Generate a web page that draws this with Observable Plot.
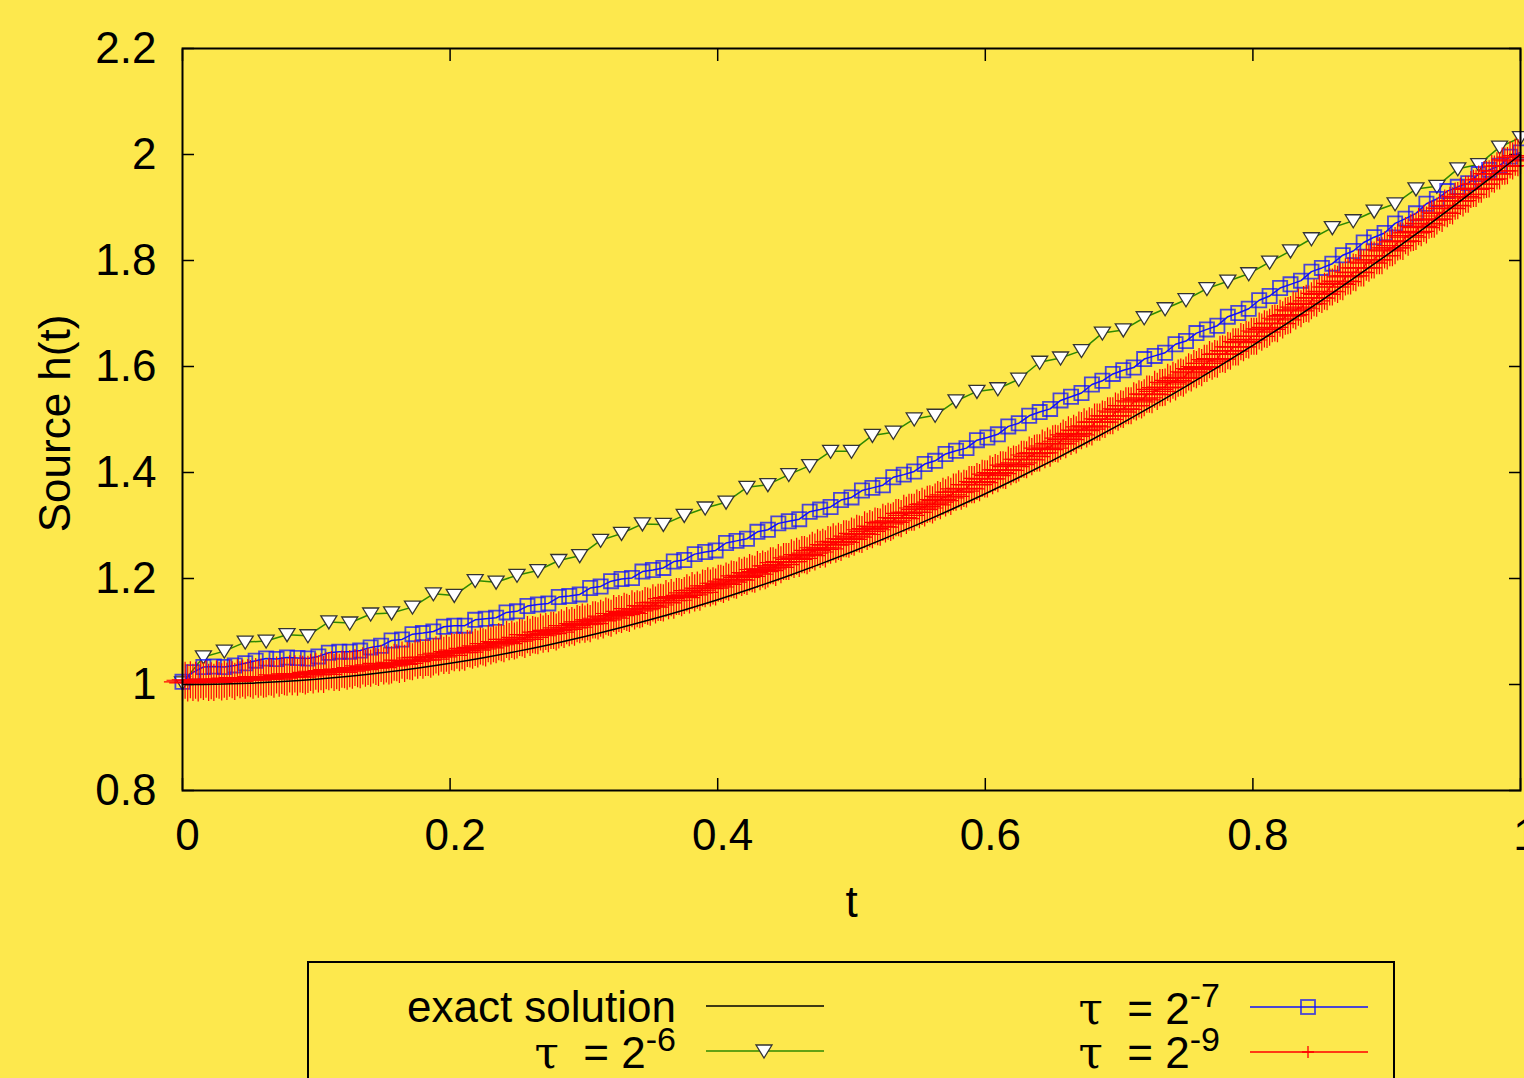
<!DOCTYPE html>
<html><head><meta charset="utf-8">
<script src="https://cdn.jsdelivr.net/npm/d3@7"></script>
<script src="https://cdn.jsdelivr.net/npm/@observablehq/plot@0.6"></script>
<style>
html,body{margin:0;padding:0;background:#fde84d;overflow:hidden;width:1524px;height:1078px;font-family:"Liberation Sans",Arial,Helvetica,sans-serif;}
#chart svg{display:block;}
#legend{position:relative;margin-left:307px;margin-top:1px;width:1084px;height:150px;border:2px solid #000;}
#legend svg{position:absolute;left:0;top:0;}
</style></head><body>
<div id="chart"></div>
<div id="legend"></div>
<script>
// ---- data ----
const exactT = [0,0.025,0.05,0.075,0.1,0.125,0.15,0.175,0.2,0.225,0.25,0.275,0.3,0.325,0.35,0.375,0.4,0.425,0.45,0.475,0.5,0.525,0.55,0.575,0.6,0.625,0.65,0.675,0.7,0.725,0.75,0.775,0.8,0.825,0.85,0.875,0.9,0.925,0.95,0.975,1];
const exactH = [1.0,1.000625,1.0025,1.005625,1.01,1.015625,1.0225,1.030625,1.04,1.050625,1.0625,1.075625,1.09,1.105625,1.1225,1.140625,1.16,1.180625,1.2025,1.225625,1.25,1.275625,1.3025,1.330625,1.36,1.390625,1.4225,1.455625,1.49,1.525625,1.5625,1.600625,1.64,1.680625,1.7225,1.765625,1.81,1.855625,1.9025,1.950625,2.0];

// tau = 2^-6 : 65 points
const tau6H = [1.003,1.052,1.063,1.080,1.082,1.094,1.092,1.118,1.116,1.133,1.135,1.146,1.171,1.168,1.196,1.193,
1.206,1.215,1.234,1.243,1.272,1.285,1.303,1.302,1.319,1.333,1.344,1.372,1.377,1.396,1.413,1.440,
1.440,1.470,1.476,1.501,1.508,1.535,1.553,1.558,1.576,1.608,1.616,1.630,1.663,1.669,1.692,1.709,
1.726,1.747,1.761,1.775,1.797,1.818,1.841,1.862,1.875,1.893,1.907,1.935,1.940,1.973,1.981,2.014,2.032];

// tau = 2^-7 : 129 points
const tau7H = [1.005,1.023,1.033,1.034,1.033,1.036,1.040,1.045,
1.049,1.048,1.051,1.050,1.049,1.053,1.060,1.062,
1.062,1.064,1.070,1.073,1.083,1.085,1.095,1.097,
1.100,1.109,1.111,1.111,1.122,1.124,1.126,1.136,
1.138,1.148,1.151,1.153,1.165,1.167,1.170,1.182,
1.185,1.195,1.199,1.201,1.213,1.216,1.220,1.232,
1.235,1.246,1.250,1.253,1.267,1.271,1.275,1.288,
1.292,1.304,1.308,1.312,1.326,1.330,1.335,1.348,
1.353,1.366,1.371,1.376,1.391,1.396,1.402,1.416,
1.422,1.435,1.441,1.446,1.461,1.466,1.472,1.487,
1.493,1.507,1.514,1.520,1.536,1.543,1.550,1.566,
1.573,1.586,1.593,1.598,1.614,1.620,1.626,1.642,
1.648,1.663,1.670,1.677,1.694,1.701,1.709,1.725,
1.733,1.748,1.755,1.762,1.779,1.786,1.794,1.810,
1.818,1.834,1.844,1.852,1.870,1.879,1.889,1.907,
1.916,1.931,1.939,1.946,1.963,1.971,1.979,1.996,
2.004];

// tau = 2^-9 : 513 points
const tau9H = [
1.005,1.008,1.003,1.009,1.004,1.008,1.003,1.009,1.006,1.010,1.004,1.007,1.004,1.010,1.008,1.005,
1.010,1.006,1.012,1.009,1.006,1.013,1.009,1.012,1.008,1.013,1.011,1.008,1.015,1.010,1.014,1.010,
1.011,1.015,1.014,1.010,1.018,1.012,1.017,1.015,1.014,1.020,1.015,1.020,1.014,1.020,1.019,1.016,
1.019,1.023,1.018,1.025,1.020,1.024,1.019,1.026,1.024,1.028,1.023,1.026,1.023,1.029,1.028,1.025,
1.030,1.027,1.032,1.030,1.028,1.035,1.031,1.034,1.031,1.037,1.034,1.032,1.040,1.035,1.039,1.035,
1.037,1.042,1.041,1.038,1.046,1.040,1.045,1.044,1.043,1.050,1.046,1.051,1.046,1.051,1.051,1.048,
1.052,1.056,1.052,1.059,1.055,1.059,1.055,1.062,1.060,1.065,1.060,1.064,1.061,1.068,1.067,1.065,
1.070,1.067,1.073,1.071,1.069,1.077,1.073,1.077,1.075,1.081,1.079,1.077,1.085,1.081,1.085,1.082,
1.084,1.089,1.088,1.085,1.094,1.089,1.094,1.093,1.092,1.099,1.095,1.100,1.096,1.102,1.102,1.099,
1.103,1.107,1.104,1.111,1.107,1.111,1.108,1.115,1.113,1.118,1.114,1.118,1.115,1.122,1.122,1.120,
1.125,1.122,1.129,1.127,1.125,1.134,1.130,1.134,1.132,1.138,1.136,1.134,1.143,1.139,1.143,1.141,
1.143,1.149,1.148,1.146,1.154,1.150,1.155,1.155,1.154,1.162,1.158,1.164,1.159,1.166,1.166,1.164,
1.168,1.173,1.169,1.177,1.173,1.178,1.174,1.182,1.181,1.186,1.182,1.186,1.184,1.191,1.191,1.189,
1.195,1.193,1.199,1.198,1.197,1.205,1.202,1.206,1.204,1.211,1.209,1.208,1.217,1.213,1.218,1.215,
1.218,1.224,1.224,1.221,1.230,1.226,1.232,1.232,1.232,1.239,1.236,1.242,1.238,1.245,1.245,1.243,
1.248,1.253,1.250,1.258,1.255,1.259,1.256,1.264,1.263,1.269,1.265,1.270,1.268,1.275,1.275,1.274,
1.280,1.278,1.285,1.284,1.283,1.292,1.289,1.294,1.292,1.299,1.298,1.297,1.306,1.303,1.308,1.306,
1.309,1.315,1.315,1.313,1.323,1.319,1.325,1.325,1.325,1.333,1.330,1.336,1.333,1.340,1.341,1.339,
1.344,1.349,1.347,1.355,1.352,1.358,1.355,1.363,1.363,1.369,1.365,1.370,1.369,1.377,1.377,1.377,
1.383,1.381,1.389,1.388,1.388,1.397,1.394,1.400,1.398,1.405,1.405,1.404,1.414,1.411,1.416,1.415,
1.418,1.425,1.425,1.424,1.433,1.430,1.436,1.437,1.437,1.446,1.443,1.450,1.446,1.454,1.455,1.454,
1.459,1.465,1.462,1.471,1.468,1.474,1.471,1.480,1.479,1.486,1.482,1.488,1.486,1.495,1.495,1.495,
1.501,1.500,1.507,1.507,1.507,1.516,1.514,1.520,1.519,1.526,1.526,1.526,1.535,1.533,1.539,1.537,
1.541,1.548,1.548,1.547,1.557,1.553,1.560,1.560,1.561,1.570,1.567,1.574,1.571,1.578,1.580,1.578,
1.584,1.590,1.588,1.596,1.594,1.600,1.598,1.606,1.606,1.613,1.610,1.615,1.614,1.623,1.624,1.623,
1.630,1.629,1.637,1.637,1.637,1.647,1.645,1.651,1.650,1.657,1.657,1.657,1.667,1.665,1.671,1.670,
1.674,1.681,1.682,1.681,1.691,1.688,1.695,1.696,1.698,1.707,1.705,1.712,1.709,1.717,1.719,1.718,
1.724,1.730,1.729,1.738,1.736,1.742,1.741,1.750,1.750,1.757,1.755,1.761,1.760,1.769,1.771,1.771,
1.778,1.777,1.786,1.786,1.786,1.797,1.795,1.801,1.801,1.809,1.809,1.809,1.820,1.818,1.824,1.824,
1.828,1.835,1.837,1.836,1.847,1.844,1.852,1.853,1.855,1.864,1.862,1.870,1.867,1.876,1.878,1.878,
1.884,1.891,1.889,1.899,1.898,1.904,1.903,1.912,1.913,1.921,1.918,1.925,1.925,1.934,1.936,1.936,
1.944,1.944,1.952,1.953,1.954,1.964,1.963,1.969,1.969,1.978,1.978,1.979,1.990,1.988,1.995,1.994,
1.998];

const xTicks = [0, 0.2, 0.4, 0.6, 0.8, 1];
const yTicks = [0.8, 1, 1.2, 1.4, 1.6, 1.8, 2, 2.2];
const xLabel = "t";
const yLabel = "Source h(t)";
const legendNames = ["exact solution", "-6", "-7", "-9"];

// ---- build rows ----
const exact = exactT.map((t, i) => ({t, h: exactH[i]}));
const tau6 = tau6H.map((h, k) => ({t: k / 64, h}));
const tau7 = tau7H.map((h, k) => ({t: k / 128, h}));
const tau9 = tau9H.map((h, k) => ({t: k / 512, h}));

const GREEN = "#2f8a00", BLUE = "#1010ff", RED = "#ff0000";
const FONT = '"Liberation Sans", Arial, Helvetica, sans-serif';
const TRI = "M-8,-6L8,-6L0,7Z";

const triDown = {draw(ctx) { ctx.moveTo(-8, -6); ctx.lineTo(8, -6); ctx.lineTo(0, 7); ctx.closePath(); }};

const fmt = d => String(d);
const blank = () => "";

const chart = Plot.plot({
  width: 1524,
  height: 960,
  marginLeft: 182,
  marginTop: 48,
  marginRight: 4,
  marginBottom: 170,
  style: {background: "transparent", color: "#000", fontSize: "44px", fontFamily: FONT, overflow: "visible"},
  x: {domain: [0, 1]},
  y: {domain: [0.8, 2.2]},
  marks: [
    Plot.axisX({ticks: xTicks, anchor: "bottom", tickSize: 0, tickPadding: 28, tickFormat: fmt, label: null, dx: 5}),
    Plot.axisX({ticks: xTicks, anchor: "bottom", tickSize: 12, dy: -12, tickFormat: blank, label: null, strokeWidth: 1.5}),
    Plot.axisX({ticks: xTicks, anchor: "top", tickSize: 12, dy: 12, tickFormat: blank, label: null, strokeWidth: 1.5}),
    Plot.axisY({ticks: yTicks, anchor: "left", tickSize: 0, tickPadding: 26, tickFormat: fmt, label: null}),
    Plot.axisY({ticks: yTicks, anchor: "left", tickSize: 12, dx: 12, tickFormat: blank, label: null, strokeWidth: 1.5}),
    Plot.axisY({ticks: yTicks, anchor: "right", tickSize: 12, dx: -12, tickFormat: blank, label: null, strokeWidth: 1.5}),
    Plot.line(tau6, {x: "t", y: "h", stroke: GREEN, strokeWidth: 1.5}),
    Plot.dot(tau6, {x: "t", y: "h", symbol: triDown, fill: "#fff", stroke: "#333", strokeWidth: 1.3}),
    Plot.line(tau7, {x: "t", y: "h", stroke: BLUE, strokeWidth: 1.5}),
    Plot.dot(tau7, {x: "t", y: "h", symbol: "square", r: 8, fill: "none", stroke: BLUE, strokeWidth: 1.8, strokeOpacity: 0.75}),
    Plot.line(tau9, {x: "t", y: "h", stroke: RED, strokeWidth: 1.3}),
    Plot.dot(tau9, {x: "t", y: "h", symbol: "plus", r: 12, stroke: RED, strokeWidth: 1.2}),
    Plot.line(exact, {x: "t", y: "h", stroke: "#000", strokeWidth: 1.5, curve: "catmull-rom"}),
    Plot.frame({stroke: "#000", strokeWidth: 2}),
    Plot.text([xLabel], {text: d => d, frameAnchor: "bottom", dy: 112, lineAnchor: "middle", fontSize: 44}),
    Plot.text([yLabel], {text: d => d, frameAnchor: "left", textAnchor: "middle", rotate: -90, dx: -127, dy: 4, lineAnchor: "middle", fontSize: 44})
  ]
});
document.getElementById("chart").appendChild(chart);

// ---- legend (below the plot) ----
const lg = d3.select("#legend").append("svg").attr("width", 1084).attr("height", 150)
  .style("font-family", FONT).style("font-size", "44px");
const ox = 309, oy = 963;
function sample(x1, x2, y, color) {
  lg.append("line").attr("x1", x1 - ox).attr("x2", x2 - ox).attr("y1", y - oy).attr("y2", y - oy)
    .attr("stroke", color).attr("stroke-width", 1.5);
}
function tauLabel(xEnd, baseline, sup) {
  const t = lg.append("text").attr("x", xEnd - ox).attr("y", baseline - oy).attr("text-anchor", "end")
    .attr("xml:space", "preserve");
  t.append("tspan").style("font-family", '"DejaVu Serif", serif').text("τ");
  t.append("tspan").text("  = 2");
  t.append("tspan").attr("dy", -17).style("font-size", "34px").text(sup);
}
// exact solution
lg.append("text").attr("x", 676 - ox).attr("y", 1022 - oy).attr("text-anchor", "end").text(legendNames[0]);
sample(706, 824, 1006, "#000");
// tau 2^-6
tauLabel(676, 1068, legendNames[1]);
sample(706, 824, 1051, GREEN);
lg.append("path").attr("d", TRI).attr("transform", `translate(${764 - ox},${1051 - oy})`)
  .attr("fill", "#fff").attr("stroke", "#333").attr("stroke-width", 1.3);
// tau 2^-7
tauLabel(1220, 1024, legendNames[2]);
sample(1250, 1368, 1007, BLUE);
lg.append("rect").attr("x", 1308 - ox - 7).attr("y", 1007 - oy - 7).attr("width", 14).attr("height", 14)
  .attr("fill", "none").attr("stroke", BLUE).attr("stroke-width", 1.8).attr("stroke-opacity", 0.75);
// tau 2^-9
tauLabel(1220, 1068, legendNames[3]);
sample(1250, 1368, 1052, RED);
lg.append("path").attr("d", "M-6,0H6M0,-6V6").attr("transform", `translate(${1308 - ox},${1052 - oy})`)
  .attr("stroke", RED).attr("stroke-width", 1.3);
</script>
</body></html>
